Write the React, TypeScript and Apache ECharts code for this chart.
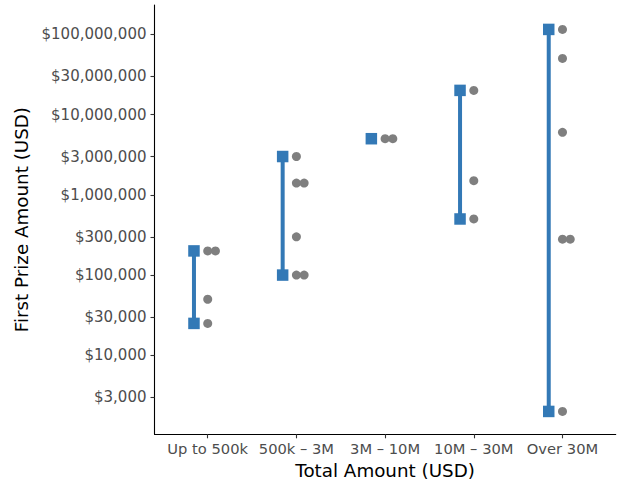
import React, { useEffect, useRef } from "react";
import * as echarts from "echarts";

const categories = ["Up to 500k", "500k – 3M", "3M – 10M", "10M – 30M", "Over 30M"];
const rangeMin = [25000, 100000, 5000000, 500000, 2000];
const rangeMax = [200000, 3000000, 5000000, 20000000, 115000000];
const prizesUpTo500k = [200000, 200000, 50000, 25000];
const prizes500kTo3M = [3000000, 1400000, 1400000, 300000, 100000, 100000];
const prizes3MTo10M = [5000000, 5000000];
const prizes10MTo30M = [20000000, 1500000, 500000];
const prizesOver30M = [115000000, 50000000, 6000000, 280000, 280000, 2000];
const prizeGroups = [prizesUpTo500k, prizes500kTo3M, prizes3MTo10M, prizes10MTo30M, prizesOver30M];
const yTickValues = [3000, 10000, 30000, 100000, 300000, 1000000, 3000000, 10000000, 30000000, 100000000];
const yAxisMin = 1038;
const yAxisMax = 231700000;

const BLUE = "#3379b6";
const GRAY = "#7f7f7f";
const FONT = "DejaVu Sans";
const RANGE_SHIFT = -0.155;
const DODGE = 0.087;

const lg = (v: number) => Math.log10(v);

export default function App() {
  const ref = useRef<HTMLDivElement>(null);
  useEffect(() => {
    if (!ref.current) return;
    const chart = echarts.init(ref.current, undefined, { renderer: "svg" });

    const rangeData = categories.map((_, i) => [i + RANGE_SHIFT, lg(rangeMin[i]), lg(rangeMax[i])]);
    const squareData: number[][] = [];
    categories.forEach((_, i) => {
      squareData.push([i + RANGE_SHIFT, lg(rangeMin[i])]);
      if (rangeMax[i] !== rangeMin[i]) squareData.push([i + RANGE_SHIFT, lg(rangeMax[i])]);
    });
    const dotData: number[][] = [];
    prizeGroups.forEach((vals, i) => {
      const seen: Record<number, number> = {};
      vals.forEach((v) => {
        const k = seen[v] || 0;
        seen[v] = k + 1;
        dotData.push([i + k * DODGE, lg(v)]);
      });
    });

    chart.setOption({
      animation: false,
      grid: { left: 154.5, right: 5.3, top: 5, bottom: 48.7, outerBoundsMode: "none" },
      xAxis: {
        type: "value",
        min: -0.6,
        max: 4.6,
        splitLine: { show: false },
        axisLine: { show: true, onZero: false, lineStyle: { color: "#000", width: 1.1 } },
        axisTick: { show: true, length: 4, customValues: [0, 1, 2, 3, 4], lineStyle: { color: "#333", width: 1.1 } },
        axisLabel: {
          customValues: [0, 1, 2, 3, 4],
          formatter: (v: number) => categories[Math.round(v)] ?? "",
          color: "#4d4d4d",
          fontFamily: FONT,
          fontSize: 14.7,
          margin: 7,
        },
        name: "Total Amount (USD)",
        nameLocation: "middle",
        nameGap: 22,
        nameTextStyle: { color: "#000", fontFamily: FONT, fontSize: 18.3 },
      },
      yAxis: {
        type: "value",
        min: lg(yAxisMin),
        max: lg(yAxisMax),
        splitLine: { show: false },
        axisLine: { show: true, onZero: false, lineStyle: { color: "#000", width: 1.1 } },
        axisTick: { show: true, length: 4, customValues: yTickValues.map(lg), lineStyle: { color: "#333", width: 1.1 } },
        axisLabel: {
          customValues: yTickValues.map(lg),
          formatter: (v: number) => "$" + Math.round(Math.pow(10, v)).toLocaleString("en-US"),
          color: "#4d4d4d",
          fontFamily: FONT,
          fontSize: 15,
          margin: 8,
        },
        name: "First Prize Amount (USD)",
        nameLocation: "middle",
        nameGap: 114,
        nameTextStyle: { color: "#000", fontFamily: FONT, fontSize: 18.3 },
      },
      series: [
        {
          type: "custom",
          data: rangeData,
          encode: { x: 0, y: [1, 2] },
          renderItem: (_p: any, api: any) => {
            const x = api.value(0);
            const lo = api.coord([x, api.value(1)]);
            const hi = api.coord([x, api.value(2)]);
            return {
              type: "line",
              shape: { x1: lo[0], y1: lo[1], x2: hi[0], y2: hi[1] },
              style: { stroke: BLUE, lineWidth: 4 },
            };
          },
          z: 2,
        },
        {
          type: "scatter",
          data: squareData,
          symbol: "rect",
          symbolSize: 11.5,
          itemStyle: { color: BLUE, opacity: 1 },
          z: 3,
        },
        {
          type: "scatter",
          data: dotData,
          symbol: "circle",
          symbolSize: 9,
          itemStyle: { color: GRAY, opacity: 1 },
          z: 4,
        },
      ],
    });
    return () => chart.dispose();
  }, []);
  return <div ref={ref} style={{ width: 621, height: 483, position: "absolute", left: 0, top: 0 }} />;
}
